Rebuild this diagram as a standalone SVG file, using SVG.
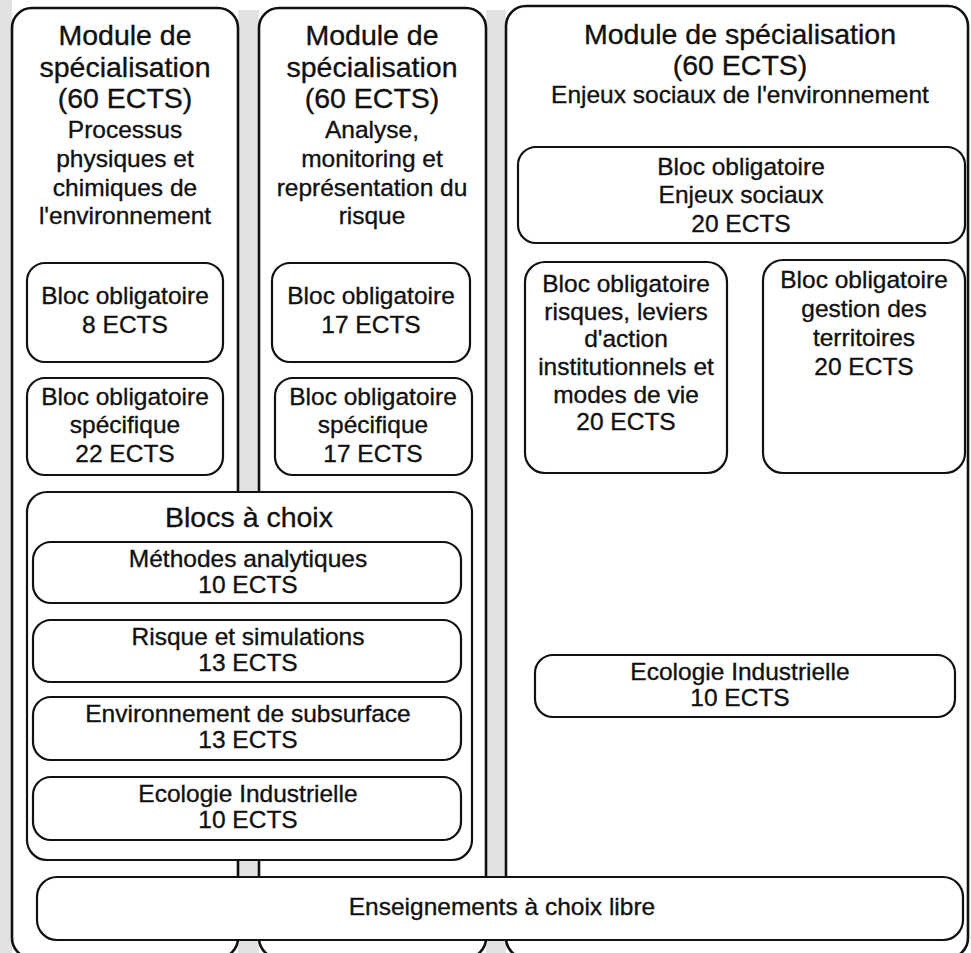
<svg xmlns="http://www.w3.org/2000/svg" width="971" height="953" viewBox="0 0 971 953">
<style>
  .mod { fill: #ffffff; stroke: #111111; stroke-width: 2.6; }
  .box { fill: #ffffff; stroke: #111111; stroke-width: 2.2; }
  .gap { fill: #e2e2e2; }
  text { font-family: "Liberation Sans", Arial, Helvetica, sans-serif; fill: #111111; stroke: #111111; stroke-width: 0.35; text-anchor: middle; }
  .big { font-size: 28.5px; }
  .sm { font-size: 24.5px; }
</style>
<rect x="0" y="0" width="971" height="953" fill="#ffffff"/>
<rect class="gap" x="0" y="0" width="12" height="953" fill="#efefef"/>
<rect class="gap" x="238" y="10" width="21" height="943"/>
<rect class="gap" x="486" y="10" width="20" height="943"/>

<g id="module1">
  <rect class="mod" x="12" y="8" width="226" height="950" rx="20"/>
  <text class="big" x="125" y="45">Module de</text>
  <text class="big" x="125" y="77">spécialisation</text>
  <text class="big" x="125" y="108">(60 ECTS)</text>
  <text class="sm" x="125" y="138">Processus</text>
  <text class="sm" x="125" y="167">physiques et</text>
  <text class="sm" x="125" y="196">chimiques de</text>
  <text class="sm" x="125" y="224">l'environnement</text>
</g>
<g id="module2">
  <rect class="mod" x="259" y="8" width="227" height="950" rx="20"/>
  <text class="big" x="372" y="45">Module de</text>
  <text class="big" x="372" y="77">spécialisation</text>
  <text class="big" x="372" y="108">(60 ECTS)</text>
  <text class="sm" x="372" y="138">Analyse,</text>
  <text class="sm" x="372" y="167">monitoring et</text>
  <text class="sm" x="372" y="196">représentation du</text>
  <text class="sm" x="372" y="224">risque</text>
</g>
<g id="module3">
  <rect class="mod" x="506" y="6" width="462" height="952" rx="20"/>
  <text class="big" x="740" y="44">Module de spécialisation</text>
  <text class="big" x="740" y="75">(60 ECTS)</text>
  <text class="sm" x="740" y="103">Enjeux sociaux de l'environnement</text>
</g>

<g id="m1-bloc-obligatoire">
  <rect class="box" x="27" y="263" width="196" height="99" rx="18"/>
  <text class="sm" x="125" y="304">Bloc obligatoire</text>
  <text class="sm" x="125" y="333">8 ECTS</text>
</g>
<g id="m1-bloc-specifique">
  <rect class="box" x="27" y="378" width="196" height="97" rx="18"/>
  <text class="sm" x="125" y="405">Bloc obligatoire</text>
  <text class="sm" x="125" y="433">spécifique</text>
  <text class="sm" x="125" y="462">22 ECTS</text>
</g>
<g id="m2-bloc-obligatoire">
  <rect class="box" x="272" y="263" width="198" height="99" rx="18"/>
  <text class="sm" x="371" y="304">Bloc obligatoire</text>
  <text class="sm" x="371" y="333">17 ECTS</text>
</g>
<g id="m2-bloc-specifique">
  <rect class="box" x="275" y="378" width="197" height="97" rx="18"/>
  <text class="sm" x="373" y="405">Bloc obligatoire</text>
  <text class="sm" x="373" y="433">spécifique</text>
  <text class="sm" x="373" y="462">17 ECTS</text>
</g>

<g id="blocs-a-choix">
  <rect class="box" x="27" y="492" width="445" height="368" rx="20"/>
  <text class="big" x="249" y="527">Blocs à choix</text>
</g>
<g id="methodes-analytiques">
  <rect class="box" x="33" y="542" width="428" height="61" rx="18"/>
  <text class="sm" x="248" y="567">Méthodes analytiques</text>
  <text class="sm" x="248" y="593">10 ECTS</text>
</g>
<g id="risque-simulations">
  <rect class="box" x="33" y="620" width="428" height="62" rx="18"/>
  <text class="sm" x="248" y="645">Risque et simulations</text>
  <text class="sm" x="248" y="671">13 ECTS</text>
</g>
<g id="environnement-subsurface">
  <rect class="box" x="33" y="697" width="428" height="63" rx="18"/>
  <text class="sm" x="248" y="722">Environnement de subsurface</text>
  <text class="sm" x="248" y="748">13 ECTS</text>
</g>
<g id="ecologie-industrielle-1">
  <rect class="box" x="33" y="777" width="428" height="63" rx="18"/>
  <text class="sm" x="248" y="802">Ecologie Industrielle</text>
  <text class="sm" x="248" y="828">10 ECTS</text>
</g>

<g id="m3-enjeux-sociaux">
  <rect class="box" x="518" y="147" width="447" height="96" rx="18"/>
  <text class="sm" x="741" y="175">Bloc obligatoire</text>
  <text class="sm" x="741" y="203">Enjeux sociaux</text>
  <text class="sm" x="741" y="232">20 ECTS</text>
</g>
<g id="m3-risques-leviers">
  <rect class="box" x="525" y="262" width="202" height="211" rx="20"/>
  <text class="sm" x="626" y="292">Bloc obligatoire</text>
  <text class="sm" x="626" y="320">risques, leviers</text>
  <text class="sm" x="626" y="347">d'action</text>
  <text class="sm" x="626" y="375">institutionnels et</text>
  <text class="sm" x="626" y="403">modes de vie</text>
  <text class="sm" x="626" y="430">20 ECTS</text>
</g>
<g id="m3-gestion-territoires">
  <rect class="box" x="763" y="260" width="202" height="213" rx="20"/>
  <text class="sm" x="864" y="288">Bloc obligatoire</text>
  <text class="sm" x="864" y="317">gestion des</text>
  <text class="sm" x="864" y="346">territoires</text>
  <text class="sm" x="864" y="375">20 ECTS</text>
</g>
<g id="ecologie-industrielle-2">
  <rect class="box" x="535" y="655" width="420" height="62" rx="18"/>
  <text class="sm" x="740" y="680">Ecologie Industrielle</text>
  <text class="sm" x="740" y="706">10 ECTS</text>
</g>

<g id="enseignements-libre">
  <rect class="box" x="37" y="877" width="926" height="63" rx="20"/>
  <text class="sm" x="502" y="915">Enseignements à choix libre</text>
</g>
<g id="connectors"></g>
</svg>
